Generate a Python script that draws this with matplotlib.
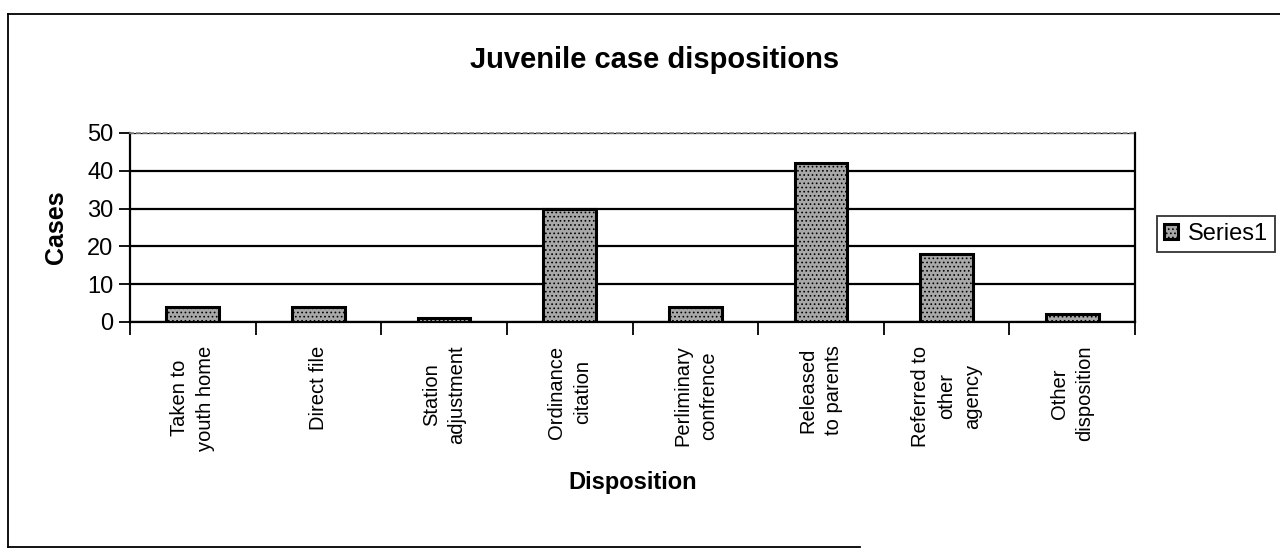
import matplotlib
matplotlib.use("Agg")
import matplotlib.pyplot as plt
from matplotlib.lines import Line2D
import numpy as np

categories = ["Taken to\nyouth home", "Direct file", "Station\nadjustment",
              "Ordinance\ncitation", "Perliminary\nconfrence", "Released\nto parents",
              "Referred to\nother\nagency", "Other\ndisposition"]
cases = [4, 4, 1, 30, 4, 42, 18, 2]
yticks = [0, 10, 20, 30, 40, 50]

plt.rcParams['font.family'] = ['Liberation Sans', 'DejaVu Sans']
plt.rcParams['hatch.linewidth'] = 0.7

W, H = 1280, 557
fig = plt.figure(figsize=(W / 100, H / 100), dpi=100)
ax = fig.add_axes([130 / W, 1 - 322 / H, (1135 - 130) / W, (322 - 133) / H])

x = np.arange(len(categories))
ax.bar(x, cases, width=0.42, color='#a8a8a8', edgecolor='black', linewidth=2.2,
       hatch='....', label='Series1', zorder=3)

ax.set_xlim(-0.5, len(categories) - 0.5)
ax.set_ylim(0, 50)
ax.set_yticks(yticks)
ax.yaxis.grid(True, color='black', linewidth=1.6, zorder=1)
ax.set_axisbelow(True)

ax.set_xticks(x)
ax.set_xticklabels(categories, rotation=90, fontsize=14.5, ha='center', va='top',
                   multialignment='center', linespacing=1.45)
ax.tick_params(axis='x', which='major', length=0, pad=17)
ax.set_xticks(np.arange(-0.5, len(categories), 1.0), minor=True)
ax.tick_params(axis='x', which='minor', length=9, width=1.3, direction='out')
ax.tick_params(axis='y', length=8, width=1.3, direction='out', labelsize=17, pad=4)

for s in ['left', 'bottom', 'right']:
    ax.spines[s].set_linewidth(1.6)
    ax.spines[s].set_color('black')
ax.spines['top'].set_color('#888888')
ax.spines['top'].set_linestyle((0, (2, 2)))
ax.spines['top'].set_linewidth(1.2)

ax.set_ylabel('Cases', fontsize=18, fontweight='bold')
ax.yaxis.set_label_coords(-0.062, 0.5)
ax.set_xlabel('Disposition', fontsize=17, fontweight='bold')
ax.xaxis.set_label_coords(0.5, -0.79)

fig.text(655 / W, 1 - 60 / H, 'Juvenile case dispositions', fontsize=21,
         fontweight='bold', ha='center', va='center')

leg = fig.legend(loc='upper left', bbox_to_anchor=(1157 / W, 1 - 216 / H),
                 fontsize=17, frameon=True, fancybox=False, borderpad=0.3,
                 handlelength=0.6, handleheight=0.6, handletextpad=0.4,
                 borderaxespad=0)
leg.get_frame().set_edgecolor('black')
leg.get_frame().set_linewidth(1.3)

# outer chart frame
fig.add_artist(Line2D([8 / W, 8 / W], [1 - 14 / H, 1 - 547 / H], transform=fig.transFigure,
                      color='black', linewidth=1.3))
fig.add_artist(Line2D([8 / W, 1.0], [1 - 14 / H, 1 - 14 / H], transform=fig.transFigure,
                      color='black', linewidth=1.3))
fig.add_artist(Line2D([8 / W, 860 / W], [1 - 547 / H, 1 - 547 / H], transform=fig.transFigure,
                      color='black', linewidth=1.3))

fig.savefig('out.png', dpi=100, facecolor='white')
